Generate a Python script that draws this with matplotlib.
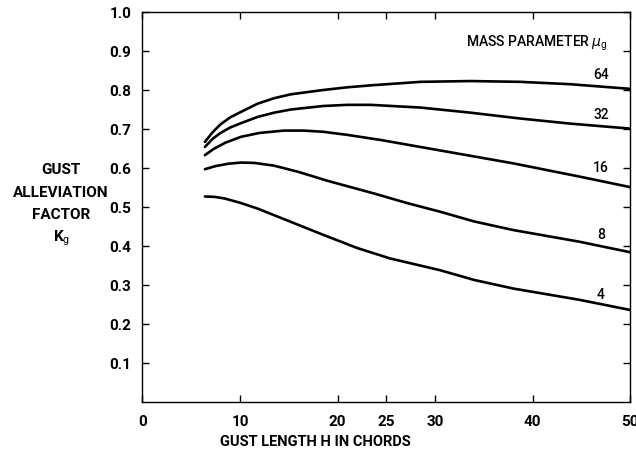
import matplotlib
matplotlib.use('Agg')
import matplotlib.pyplot as plt

plt.rcParams['font.family'] = ['Roboto', 'DejaVu Sans']
plt.rcParams['mathtext.fontset'] = 'custom'
plt.rcParams['mathtext.rm'] = 'Roboto'
plt.rcParams['mathtext.it'] = 'DejaVu Sans:italic'

# Gust alleviation factor curves
mass_labels = ['64', '32', '16', '8', '4']

x_64 = [6.4, 7.2, 8.0, 9.0, 10.1, 11.8, 13.5, 15.2, 18.5, 21.0, 23.4, 28.5, 33.6, 38.7, 43.8, 50.0]
k_64 = [0.667, 0.692, 0.712, 0.730, 0.744, 0.765, 0.779, 0.789, 0.800, 0.807, 0.812, 0.821, 0.823, 0.821, 0.815, 0.803]

x_32 = [6.4, 7.2, 8.0, 9.0, 10.1, 11.8, 13.5, 15.2, 18.5, 21.0, 23.4, 28.5, 33.6, 38.7, 43.8, 50.0]
k_32 = [0.654, 0.675, 0.690, 0.704, 0.715, 0.731, 0.742, 0.750, 0.759, 0.762, 0.762, 0.755, 0.742, 0.727, 0.714, 0.701]

x_16 = [6.4, 7.3, 8.5, 10.1, 12.0, 14.5, 16.5, 18.5, 21.0, 24.4, 27.8, 31.2, 38.0, 44.8, 50.0]
k_16 = [0.633, 0.649, 0.665, 0.680, 0.690, 0.696, 0.696, 0.693, 0.685, 0.672, 0.657, 0.642, 0.612, 0.578, 0.551]

x_8 = [6.4, 7.5, 8.8, 10.1, 11.5, 13.5, 16.0, 19.0, 23.7, 27.0, 30.5, 34.0, 38.0, 44.8, 50.0]
k_8 = [0.597, 0.605, 0.611, 0.614, 0.613, 0.606, 0.590, 0.567, 0.535, 0.511, 0.488, 0.463, 0.441, 0.411, 0.384]

x_4 = [6.4, 7.4, 8.4, 10.0, 11.8, 15.2, 18.6, 22.0, 25.4, 30.5, 34.0, 38.0, 44.8, 50.0]
k_4 = [0.527, 0.526, 0.522, 0.511, 0.496, 0.462, 0.428, 0.395, 0.368, 0.338, 0.313, 0.291, 0.262, 0.236]

label_y = [0.838, 0.736, 0.600, 0.428, 0.274]

x_ticks = [0, 10, 20, 25, 30, 40, 50]
y_ticks = [0.1, 0.2, 0.3, 0.4, 0.5, 0.6, 0.7, 0.8, 0.9, 1.0]

fig = plt.figure(figsize=(6.36, 4.54), dpi=100)
ax = fig.add_axes([0.224, 0.1145, 0.767, 0.859])

for xs, ks in [(x_64, k_64), (x_32, k_32), (x_16, k_16), (x_8, k_8), (x_4, k_4)]:
    ax.plot(xs, ks, color='black', lw=1.9, solid_capstyle='round', solid_joinstyle='round')

for lab, yy in zip(mass_labels, label_y):
    ax.text(47.0, yy, lab, ha='center', va='center', fontsize=10, fontweight='medium')

ax.text(47.7, 0.92, r'MASS PARAMETER $\mathit{\mu}_{\mathrm{g}}$', ha='right', va='center',
        fontsize=10, fontweight='medium')

ax.set_xlim(0, 50)
ax.set_ylim(0, 1.0)
ax.set_xticks(x_ticks)
ax.set_yticks(y_ticks)
ax.set_xticklabels([str(t) for t in x_ticks], fontweight='bold', fontsize=11)
ax.set_yticklabels(['%.1f' % t for t in y_ticks], fontweight='bold', fontsize=11)
ax.tick_params(direction='in', length=5, width=1.0, top=True, right=True)
ax.tick_params(axis='y', pad=8)
ax.tick_params(axis='x', pad=9)
for s in ax.spines.values():
    s.set_linewidth(1.0)

ax.set_xlabel('GUST LENGTH H IN CHORDS', fontweight='bold', fontsize=10.5, labelpad=6)
ax.xaxis.set_label_coords(0.355, -0.085)

for txt, yf in [('GUST', 0.626), ('ALLEVIATION', 0.575), ('FACTOR', 0.526)]:
    fig.text(0.096, yf, txt, ha='center', va='center', fontweight='bold', fontsize=11)
fig.text(0.096, 0.476, r'K$_{\mathrm{g}}$', ha='center', va='center',
         fontweight='bold', fontsize=11)

fig.savefig('out.png', dpi=100)
